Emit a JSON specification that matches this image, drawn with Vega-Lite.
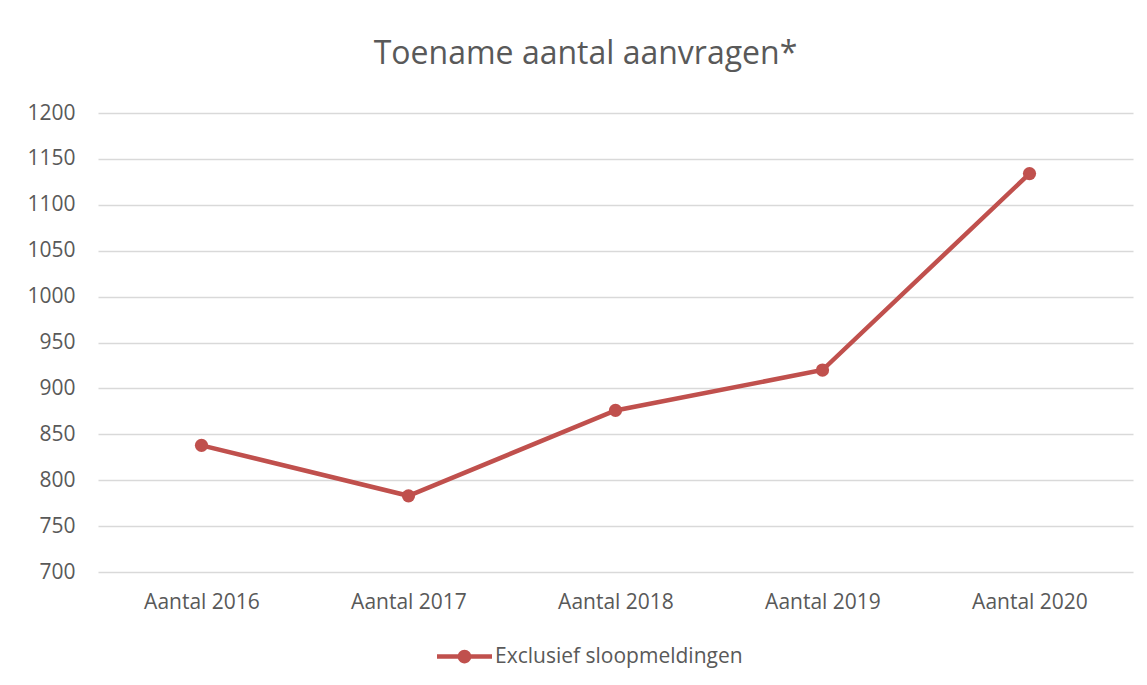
{
  "$schema": "https://vega.github.io/schema/vega-lite/v6.json",
  "width": 1035,
  "height": 459,
  "autosize": {"type": "none"},
  "padding": {"left": 98, "top": 113, "right": 14, "bottom": 113},
  "background": "white",
  "title": {
    "text": "Toename aantal aanvragen*",
    "font": "Open Sans",
    "fontSize": 32,
    "fontWeight": "normal",
    "color": "#595959",
    "anchor": "middle",
    "offset": 6,
    "dx": -30,
    "baseline": "alphabetic"
  },
  "data": {
    "values": [
      {"jaar": "Aantal 2016", "aantal": 838, "serie": "Exclusief sloopmeldingen"},
      {"jaar": "Aantal 2017", "aantal": 783, "serie": "Exclusief sloopmeldingen"},
      {"jaar": "Aantal 2018", "aantal": 876, "serie": "Exclusief sloopmeldingen"},
      {"jaar": "Aantal 2019", "aantal": 920, "serie": "Exclusief sloopmeldingen"},
      {"jaar": "Aantal 2020", "aantal": 1134, "serie": "Exclusief sloopmeldingen"}
    ]
  },
  "mark": {"type": "line", "strokeWidth": 4.5, "point": {"size": 175, "filled": true, "opacity": 1}},
  "encoding": {
    "x": {
      "field": "jaar",
      "type": "ordinal",
      "sort": null,
      "scale": {"type": "point", "padding": 0.5},
      "axis": {
        "title": null,
        "labelAngle": 0,
        "labelFont": "Open Sans",
        "labelFontSize": 21,
        "labelColor": "#595959",
        "labelPadding": 19,
        "ticks": false,
        "domain": false,
        "grid": false
      }
    },
    "y": {
      "field": "aantal",
      "type": "quantitative",
      "scale": {"domain": [700, 1200], "nice": false, "zero": false},
      "axis": {
        "title": null,
        "format": "d",
        "values": [700, 750, 800, 850, 900, 950, 1000, 1050, 1100, 1150, 1200],
        "labelFont": "Open Sans",
        "labelFontSize": 21,
        "labelColor": "#595959",
        "labelPadding": 23,
        "ticks": false,
        "domain": false,
        "grid": true,
        "gridColor": "#D9D9D9",
        "gridWidth": 1.3
      }
    },
    "color": {
      "field": "serie",
      "type": "nominal",
      "scale": {"range": ["#C0504D"]},
      "legend": {
        "title": null,
        "orient": "none",
        "legendX": 339,
        "legendY": 516,
        "symbolType": "M-1,-0.08L1,-0.08L1,0.08L-1,0.08Z M-0.25,0A0.25,0.25 0 1,1 0.25,0A0.25,0.25 0 1,1 -0.25,0Z",
        "symbolSize": 3025,
        "symbolFillColor": "#C0504D",
        "symbolStrokeWidth": 0,
        "labelFont": "Open Sans",
        "labelFontSize": 21,
        "labelColor": "#595959",
        "labelOffset": 3,
        "labelLimit": 400
      }
    }
  },
  "config": {
    "view": {"stroke": null}
  }
}
